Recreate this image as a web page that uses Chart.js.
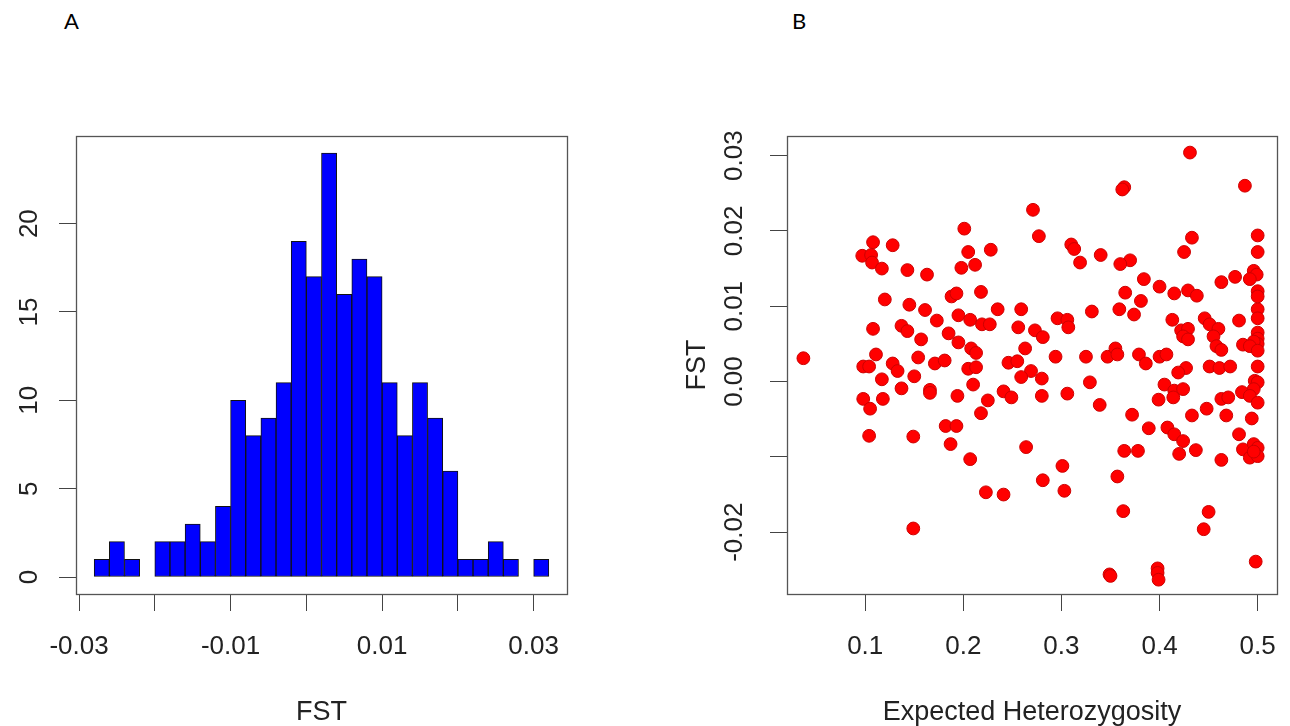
<!DOCTYPE html>
<html><head><meta charset="utf-8">
<script src="https://cdn.jsdelivr.net/npm/chart.js@4"></script>
<style>
html,body{margin:0;padding:0;background:#fff;width:1290px;height:726px;overflow:hidden;}
#wrapA{position:absolute;left:0;top:0;width:645px;height:726px;}
#wrapB{position:absolute;left:645px;top:0;width:645px;height:726px;}
.panel{position:absolute;top:7px;font-family:Lato,'Open Sans',sans-serif;font-size:22px;color:#000;}
</style></head><body>
<div class="panel" style="left:64px">A</div>
<div class="panel" style="left:792px">B</div>
<div id="wrapA"><canvas id="cA" width="645" height="726"></canvas></div>
<div id="wrapB"><canvas id="cB" width="645" height="726"></canvas></div>
<script>
// ---- Panel A: histogram of FST ----
const fstBinCenters = [-0.027,-0.025,-0.023,-0.021,-0.019,-0.017,-0.015,-0.013,-0.011,-0.009,
  -0.007,-0.005,-0.003,-0.001,0.001,0.003,0.005,0.007,0.009,0.011,
  0.013,0.015,0.017,0.019,0.021,0.023,0.025,0.027,0.029,0.031];
const fstCounts = [1,2,1,0,2,2,3,2,4,10,
  8,9,11,19,17,24,16,18,17,11,
  8,11,9,6,1,1,2,1,0,1];
const histXTicks = [-0.03,-0.02,-0.01,0,0.01,0.02,0.03];
const histXLabels = ['-0.03','','-0.01','','0.01','','0.03'];
const histYTicks = [0,5,10,15,20];
const histYLabels = ['0','5','10','15','20'];

// ---- Panel B: FST vs expected heterozygosity ----
const het = [
0.037,0.108,0.128,0.097,0.106,0.107,0.117,0.143,0.163,0.120,
0.145,0.161,0.173,0.108,0.137,0.143,0.157,0.185,0.111,0.098,
0.104,0.128,0.133,0.154,0.171,0.181,0.117,0.150,0.137,0.166,
0.166,0.098,0.118,0.105,0.104,0.149,0.149,0.182,0.187,0.193,
0.271,0.277,0.201,0.205,0.228,0.198,0.212,0.310,0.313,0.319,
0.340,0.188,0.193,0.218,0.235,0.259,0.331,0.195,0.207,0.219,
0.227,0.296,0.306,0.307,0.256,0.273,0.281,0.195,0.208,0.213,
0.263,0.294,0.325,0.347,0.246,0.255,0.205,0.213,0.269,0.259,
0.280,0.210,0.194,0.225,0.241,0.249,0.280,0.306,0.329,0.339,
0.218,0.207,0.264,0.301,0.281,0.303,0.223,0.241,0.349,
0.431,0.364,0.362,0.487,0.433,0.425,0.500,0.500,0.370,0.360,
0.384,0.400,0.415,0.429,0.438,0.463,0.477,0.496,0.499,0.492,
0.500,0.500,0.365,0.359,0.381,0.374,0.500,0.500,0.413,0.446,
0.451,0.460,0.481,0.422,0.429,0.424,0.429,0.455,0.458,0.463,
0.500,0.500,0.500,0.496,0.485,0.492,0.500,0.355,0.357,0.379,
0.386,0.400,0.407,0.427,0.451,0.461,0.472,0.500,0.419,0.497,
0.500,0.496,0.405,0.415,0.424,0.414,0.399,0.372,0.389,0.408,
0.415,0.424,0.420,0.437,0.364,0.378,0.433,0.448,0.463,0.470,
0.468,0.484,0.492,0.500,0.494,0.481,0.463,0.485,0.496,0.500,
0.492,0.500,0.496,0.357,0.363,0.450,0.445,0.498,0.350,0.398,0.398,0.399];
const fst = [
0.0031,0.0185,0.0181,0.0167,0.0168,0.0158,0.0150,0.0148,0.0142,0.0109,
0.0102,0.0095,0.0081,0.0070,0.0074,0.0067,0.0056,0.0064,0.0036,0.0020,
0.0020,0.0024,0.0014,0.0032,0.0024,0.0028,0.0003,0.0007,-0.0009,-0.0011,
-0.0015,-0.0023,-0.0023,-0.0036,-0.0072,-0.0073,-0.0195,-0.0059,-0.0083,-0.0059,
0.0228,0.0193,0.0203,0.0172,0.0175,0.0151,0.0155,0.0182,0.0176,0.0158,
0.0168,0.0113,0.0117,0.0119,0.0096,0.0096,0.0093,0.0088,0.0082,0.0076,
0.0076,0.0084,0.0082,0.0072,0.0072,0.0068,0.0059,0.0052,0.0044,0.0038,
0.0044,0.0033,0.0033,0.0033,0.0025,0.0027,0.0017,0.0019,0.0014,0.0006,
0.0004,-0.0004,-0.0019,-0.0025,-0.0013,-0.0021,-0.0019,-0.0016,-0.0001,-0.0031,
-0.0042,-0.0103,-0.0087,-0.0112,-0.0131,-0.0145,-0.0147,-0.0150,-0.0256,
0.0304,0.0258,0.0255,0.0260,0.0191,0.0172,0.0194,0.0172,0.0161,0.0156,
0.0136,0.0126,0.0117,0.0121,0.0114,0.0132,0.0139,0.0147,0.0142,0.0136,
0.0120,0.0113,0.0118,0.0096,0.0107,0.0089,0.0096,0.0084,0.0082,0.0084,
0.0076,0.0070,0.0081,0.0068,0.0070,0.0060,0.0056,0.0060,0.0047,0.0042,
0.0065,0.0057,0.0050,0.0053,0.0049,0.0047,0.0041,0.0044,0.0036,0.0036,
0.0024,0.0033,0.0036,0.0018,0.0020,0.0018,0.0020,0.0020,0.0012,0.0001,
-0.0001,-0.0010,-0.0004,-0.0012,-0.0010,-0.0021,-0.0024,-0.0044,-0.0062,-0.0061,
-0.0070,-0.0079,-0.0096,-0.0091,-0.0092,-0.0092,-0.0045,-0.0036,-0.0023,-0.0021,
-0.0045,-0.0014,-0.0019,-0.0028,-0.0049,-0.0070,-0.0104,-0.0090,-0.0083,-0.0088,
-0.0101,-0.0099,-0.0093,-0.0126,-0.0172,-0.0173,-0.0196,-0.0239,-0.0258,-0.0248,-0.0254,-0.0263];
const scatXTicks = [0.1,0.2,0.3,0.4,0.5];
const scatXLabels = ['0.1','0.2','0.3','0.4','0.5'];
const scatYTicks = [-0.02,-0.01,0,0.01,0.02,0.03];
const scatYLabels = ['-0.02','','0.00','0.01','0.02','0.03'];

const FAM = "'Liberation Sans', Arial, Helvetica, sans-serif";
const FS = 26;
const TFS = 27;

const framePlugin = {
  id: 'frame',
  afterDatasetsDraw(chart) {
    const a = chart.chartArea, c = chart.ctx;
    c.save(); c.strokeStyle = '#555'; c.lineWidth = 1.3;
    c.strokeRect(Math.round(a.left) + 0.5, Math.round(a.top) + 0.5, Math.round(a.right - a.left), Math.round(a.bottom - a.top));
    c.restore();
  }
};
const rotYPlugin = {
  id: 'rotY',
  afterDraw(chart, args, opts) {
    const s = chart.scales.y, c = chart.ctx;
    c.save(); c.font = FS + 'px ' + FAM; c.fillStyle = '#222'; c.textAlign = 'center'; c.textBaseline = 'middle';
    s.ticks.forEach((t, i) => {
      const lab = opts.labels[i]; if (!lab) return;
      const py = s.getPixelForValue(t.value);
      c.save(); c.translate(opts.x, py); c.rotate(-Math.PI / 2); c.fillText(lab, 0, 0); c.restore();
    });
    c.restore();
  }
};

function axisCommon(ticksArr, width, height) {
  return {
    grid: { display: true, drawOnChartArea: false, drawTicks: true, tickLength: 17, color: '#444', lineWidth: 1, offset: false },
    border: { display: false },
    afterBuildTicks: s => { s.ticks = ticksArr.map(v => ({ value: v })); },
    afterFit: s => {
      if (width != null) s.width = width;
      if (height != null) s.height = height;
      s.paddingLeft = 0; s.paddingRight = 0; s.paddingTop = 0; s.paddingBottom = 0;
    }
  };
}

new Chart(document.getElementById('cA'), {
  type: 'bar',
  data: { datasets: [{
    data: fstBinCenters.map((x, i) => ({ x: x, y: fstCounts[i] })),
    backgroundColor: '#0000ff', borderColor: '#111', borderWidth: 1, borderSkipped: false,
    barPercentage: 1, categoryPercentage: 1
  }] },
  options: {
    responsive: false, animation: false, events: [],
    layout: { autoPadding: false, padding: { left: 0, top: 136, right: 78, bottom: 0 } },
    plugins: { legend: { display: false }, tooltip: { enabled: false }, rotY: { labels: histYLabels, x: 30 } },
    scales: {
      x: Object.assign(axisCommon(histXTicks, null, 132), {
        type: 'linear', min: -0.0304, max: 0.0344, offset: false,
        ticks: { callback: (v, i) => histXLabels[i], font: { family: FAM, size: FS }, color: '#222', padding: 20, maxRotation: 0, minRotation: 0, autoSkip: false },
        title: { display: true, text: 'FST', color: '#222', font: { family: FAM, size: TFS, lineHeight: 1.0 }, padding: { top: 0, bottom: 0 } }
      }),
      y: Object.assign(axisCommon(histYTicks, 76, null), {
        type: 'linear', min: -0.96, max: 24.96,
        ticks: { display: false }
      })
    }
  },
  plugins: [framePlugin, rotYPlugin]
});

new Chart(document.getElementById('cB'), {
  type: 'scatter',
  data: { datasets: [{
    data: het.map((x, i) => ({ x: x, y: fst[i] })),
    backgroundColor: '#ff0000', borderColor: '#cc0000', borderWidth: 1, pointRadius: 6.4
  }] },
  options: {
    responsive: false, animation: false, events: [],
    layout: { autoPadding: false, padding: { left: 0, top: 136, right: 13, bottom: 0 } },
    plugins: { legend: { display: false }, tooltip: { enabled: false }, rotY: { labels: scatYLabels, x: 90 } },
    scales: {
      x: Object.assign(axisCommon(scatXTicks, null, 132), {
        type: 'linear', min: 0.0203, max: 0.5197,
        ticks: { callback: (v, i) => scatXLabels[i], font: { family: FAM, size: FS }, color: '#222', padding: 20, maxRotation: 0, minRotation: 0, autoSkip: false },
        title: { display: true, text: 'Expected Heterozygosity', color: '#222', font: { family: FAM, size: TFS, lineHeight: 1.0 }, padding: { top: 0, bottom: 0 } }
      }),
      y: Object.assign(axisCommon(scatYTicks, 142, null), {
        type: 'linear', min: -0.0282, max: 0.0326,
        ticks: { display: false },
        title: { display: true, text: 'FST', color: '#222', font: { family: FAM, size: TFS, lineHeight: 1.0 }, padding: { top: 39, bottom: 0 } }
      })
    }
  },
  plugins: [framePlugin, rotYPlugin]
});
</script>
</body></html>
